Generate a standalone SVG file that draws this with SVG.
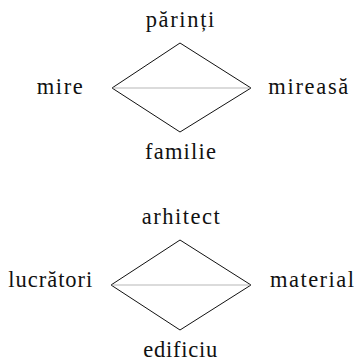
<svg xmlns="http://www.w3.org/2000/svg" width="354" height="364" viewBox="0 0 354 364">
<style>
.lbl{font-family:"Liberation Serif","Times New Roman",serif;font-size:22.5px;fill:#111;}
.edge{fill:none;stroke:#111;stroke-width:1;}
.mid{fill:none;stroke:#999;stroke-width:0.7;}
</style>
<rect width="354" height="364" fill="#fff"/>
<g id="connectors">
<polyline class="edge" points="112,88 180,43 251,88 180,132 112,88"/>
<line class="mid" x1="112" y1="88" x2="251" y2="88"/>
<polyline class="edge" points="111,285 180,240 251,285 180,330 111,285"/>
<line class="mid" x1="111" y1="285" x2="251" y2="285"/>
</g>
<g id="parinti"><text class="lbl" font-family="Liberation Serif, serif" x="145.7" y="27" textLength="68.6" lengthAdjust="spacing">părinți</text></g>
<g id="mire"><text class="lbl" font-family="Liberation Serif, serif" x="36.7" y="94" textLength="46" lengthAdjust="spacing">mire</text></g>
<g id="mireasa"><text class="lbl" font-family="Liberation Serif, serif" x="268.3" y="94" textLength="80" lengthAdjust="spacing">mireasă</text></g>
<g id="familie"><text class="lbl" font-family="Liberation Serif, serif" x="145" y="158.5" textLength="71" lengthAdjust="spacing">familie</text></g>
<g id="arhitect"><text class="lbl" font-family="Liberation Serif, serif" x="141.7" y="224" textLength="78" lengthAdjust="spacing">arhitect</text></g>
<g id="lucratori"><text class="lbl" font-family="Liberation Serif, serif" x="8.3" y="287" textLength="84" lengthAdjust="spacing">lucrători</text></g>
<g id="material"><text class="lbl" font-family="Liberation Serif, serif" x="270" y="287" textLength="84" lengthAdjust="spacing">material</text></g>
<g id="edificiu"><text class="lbl" font-family="Liberation Serif, serif" x="143.3" y="356.5" textLength="74" lengthAdjust="spacing">edificiu</text></g>
</svg>
